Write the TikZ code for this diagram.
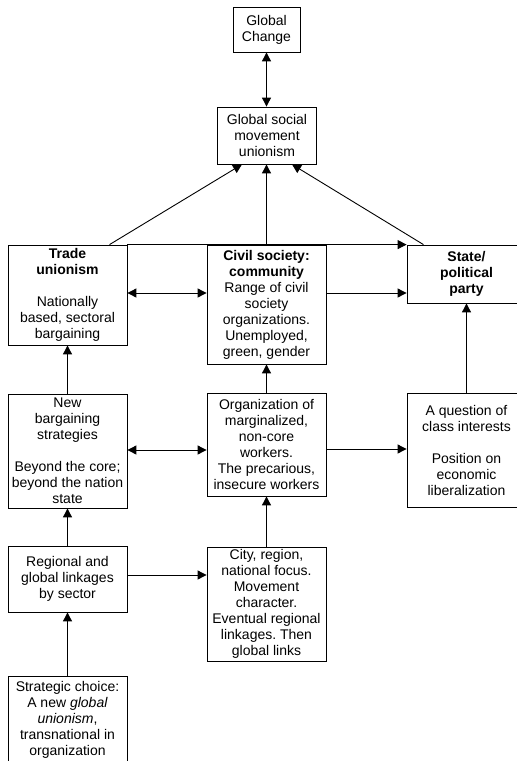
\documentclass[tikz,border=0pt]{standalone}
\usepackage{fontspec}
\setmainfont{Liberation Sans}
\usetikzlibrary{arrows.meta,calc}
\frenchspacing
\tikzset{
  box/.style={draw, line width=0.8pt, inner sep=0pt, align=center,
    font=\fontsize{14}{16}\selectfont\frenchspacing, fill=white},
  arr/.style={line width=0.9pt, -{Triangle[length=9pt,width=9pt]}},
  dbl/.style={line width=0.9pt, {Triangle[length=9pt,width=9pt]}-{Triangle[length=9pt,width=9pt]}}
}
\begin{document}
\begin{tikzpicture}[x=1pt,y=-1pt]
\path[use as bounding box] (0,0) rectangle (517,761);
\clip (0,0) rectangle (517,761);

\node[box, minimum width=67pt, minimum height=45pt] (gc) at (266.5,29.5) {Global\\Change};
\node[box, minimum width=99pt, minimum height=57pt] (gsmu) at (267,135.5) {Global social\\movement\\unionism};

\node[box, minimum width=119pt, minimum height=100pt] (trade) at (67.5,295) {\textbf{Trade}\\\textbf{unionism}\\[16pt]Nationally\\based, sectoral\\bargaining};
\node[box, minimum width=119pt, minimum height=119pt] (civil) at (266.5,304.5) {\textbf{Civil society:}\\\textbf{community}\\Range of civil\\society\\organizations.\\Unemployed,\\green, gender};
\node[box, minimum width=119pt, minimum height=58pt] (state) at (466.5,274) {\textbf{State/}\\\textbf{political}\\\textbf{party}};

\node[box, minimum width=119pt, minimum height=114pt] (newb) at (67.5,451) {New\\bargaining\\strategies\\[16pt]Beyond the core;\\beyond the nation\\state};
\node[box, minimum width=119pt, minimum height=103pt] (org) at (266.5,444.5) {Organization of\\marginalized,\\non-core\\workers.\\The precarious,\\insecure workers};
\node[box, minimum width=119pt, minimum height=114pt] (quest) at (466.5,450) {A question of\\class interests\\[16pt]Position on\\economic\\liberalization};

\node[box, minimum width=119pt, minimum height=66pt] (reg) at (67.5,579) {Regional and\\global linkages\\by sector};
\node[box, minimum width=119pt, minimum height=114pt] (city) at (266.5,604) {City, region,\\national focus.\\Movement\\character.\\Eventual regional\\linkages. Then\\global links};

\node[box, minimum width=119pt, minimum height=87pt] (strat) at (67.5,719.5) {Strategic choice:\\A new \textit{global}\\\textit{unionism},\\transnational in\\organization};

% connectors
\draw[dbl] (gc.south) -- (gc.south |- gsmu.north);
\draw[arr] ([xshift=42pt]trade.north) -- ([xshift=-25pt]gsmu.south);
\draw[arr] (civil.north) -- (civil.north |- gsmu.south);
\draw[arr] ([xshift=-43pt]state.north) -- ([xshift=25pt]gsmu.south);
\draw[arr] (trade.north east) -- (state.north west);

\draw[dbl] ([yshift=2pt]trade.east) coordinate (t1) -- (t1 -| civil.west);
\path ([yshift=-19pt]state.west) coordinate (s1);
\draw[arr] (s1 -| civil.east) -- (s1);

\draw[dbl] ([yshift=1pt]newb.east) coordinate (n1) -- (n1 -| org.west);
\path ([yshift=1pt]quest.west) coordinate (q1);
\draw[arr] (q1 -| org.east) -- (q1);

\draw[arr] (newb.north) -- (trade.south);
\draw[arr] (org.north) -- (civil.south);
\draw[arr] (quest.north) -- (state.south);
\draw[arr] (reg.north) -- (newb.south);
\draw[arr] (city.north) -- (org.south);
\draw[arr] (strat.north) -- (reg.south);

\draw[arr] ([yshift=4pt]reg.east) coordinate (r1) -- (r1 -| city.west);
\end{tikzpicture}
\end{document}
